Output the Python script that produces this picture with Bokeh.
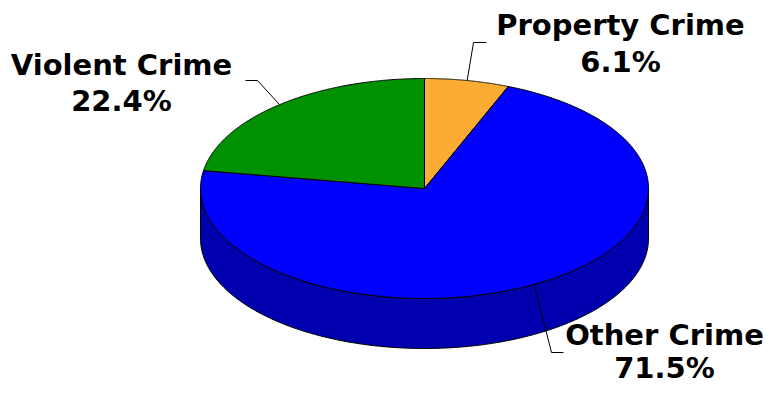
import numpy as np
from bokeh.plotting import figure
from bokeh.models import Range1d
from bokeh.embed import file_html
from bokeh.resources import INLINE
from bokeh.core.properties import value

# ---- data ----
categories = ["Property Crime", "Other Crime", "Violent Crime"]
shares = [6.1, 71.5, 22.4]
colors = ["#FCAC33", "#0000FF", "#009100"]
side_colors = ["#A87010", "#0000AF", "#006400"]

# ---- layout ----
W, H = 767, 386
CX, CY, RX, RY, DEPTH = 424.0, 188.0, 224.0, 110.0, 50.0
FONT = "DejaVu Sans"
FONT_SIZE = "29px"
TEXT_SHIFT = -11  # compensates the renderer's baseline offset
# per label: (text centre x, name baseline y, pct baseline y, elbow x, elbow y, end x)
label_layout = {
    "Property Crime": (620, 35, 72, 473, 42, 486),
    "Other Crime": (664, 345, 378, 551, 352, 563),
    "Violent Crime": (121, 75, 111, 257, 80, 245),
}


def pt(theta_deg, dy=0.0):
    t = np.radians(theta_deg)
    return CX + RX * np.sin(t), CY - RY * np.cos(t) + dy


p = figure(width=W, height=H, x_range=Range1d(0, W), y_range=Range1d(H, 0),
           output_backend="svg", toolbar_location=None, min_border=0)
p.axis.visible = False
p.grid.visible = False
p.outline_line_color = None
p.background_fill_color = "white"
p.border_fill_color = "white"

total = sum(shares)
starts, ends = [], []
a = 0.0
for s in shares:
    starts.append(a)
    a += 360.0 * s / total
    ends.append(a)

# side walls (front half: 90..270 deg clockwise from top)
sx, sy, sc = [], [], []
for a0, a1, c in zip(starts, ends, side_colors):
    lo, hi = max(a0, 90.0), min(a1, 270.0)
    if hi <= lo:
        continue
    th = np.linspace(lo, hi, 200)
    tx, ty = pt(th)
    bx, by = pt(th[::-1], DEPTH)
    sx.append(list(np.concatenate([tx, bx])))
    sy.append(list(np.concatenate([ty, by])))
    sc.append(c)
p.patches(sx, sy, fill_color=sc, line_color="black", line_width=1)

# top slices
tx_all, ty_all = [], []
for a0, a1 in zip(starts, ends):
    th = np.linspace(a0, a1, 300)
    ex, ey = pt(th)
    tx_all.append([CX] + list(ex))
    ty_all.append([CY] + list(ey))
p.patches(tx_all, ty_all, fill_color=colors, line_color="black", line_width=1)

# leader lines and labels
lx, ly = [], []
for cat, s, a0, a1 in zip(categories, shares, starts, ends):
    mx, my = pt((a0 + a1) / 2.0)
    tcx, nb, pb, elx, ely, enx = label_layout[cat]
    lx.append([mx, elx, enx])
    ly.append([my, ely, ely])
    p.text(x=[tcx], y=[nb + TEXT_SHIFT], text=[cat], text_align="center",
           text_baseline="alphabetic", text_font=value(FONT), text_font_size=FONT_SIZE,
           text_font_style="bold", text_color="black")
    p.text(x=[tcx], y=[pb + TEXT_SHIFT], text=[f"{s:.1f}%"], text_align="center",
           text_baseline="alphabetic", text_font=value(FONT), text_font_size=FONT_SIZE,
           text_font_style="bold", text_color="black")
p.multi_line(lx, ly, line_color="black", line_width=1)

open("out.html", "w").write(file_html(p, INLINE))
